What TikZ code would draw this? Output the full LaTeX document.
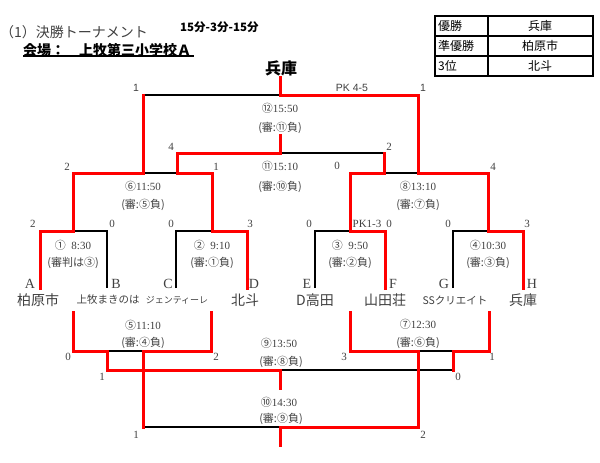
\documentclass[tikz,border=0pt]{standalone}
\usepackage{fontspec}
\setmainfont{Liberation Serif}
\newfontfamily\cjk{Noto Sans CJK JP}
\newfontfamily\asans{Liberation Sans}
\definecolor{txt}{HTML}{404040}
\begin{document}
\begin{tikzpicture}[x=1pt,y=-1pt,
  win/.style={draw=red, line width=3pt, line cap=rect},
  los/.style={draw=black, line width=1.4pt},
  lbl/.style={inner sep=0pt, text=txt, font=\cjk\fontsize{11}{11}\selectfont},
  sc/.style={inner sep=0pt, text=txt, font=\fontsize{11}{11}\selectfont},
  psc/.style={inner sep=0pt, text=txt, font=\asans\fontsize{10.5}{10.5}\selectfont},
  let/.style={inner sep=0pt, text=txt, font=\fontsize{14}{14}\selectfont},
  tm/.style={inner sep=0pt, text=txt, font=\cjk\fontsize{14}{14}\selectfont},
  tms/.style={inner sep=0pt, text=txt, font=\cjk\fontsize{10.5}{10.5}\selectfont},
  tbl/.style={inner sep=0pt, text=black, font=\cjk\fontsize{12}{12}\selectfont}]
\useasboundingbox (0,0) rectangle (600,463);
% ---------- header ----------
\node[inner sep=0pt, anchor=west, text=txt, font=\cjk\fontsize{14}{14}\selectfont] (title) at (0,32) {（1）決勝トーナメント};
\node[inner sep=0pt, anchor=west, text=black, font=\cjk\bfseries\fontsize{11.5}{11.5}\selectfont] (rule) at (180,27) {15分-3分-15分};
\node[inner sep=0pt, anchor=west, text=black, font=\cjk\bfseries\fontsize{14}{14}\selectfont] (venue) at (23,50) {会場：　上牧第三小学校Ａ};
\coordinate (ulA) at (23,56);
\coordinate (ulB) at (194,56);
\draw[line width=1.2pt] (ulA) -- (ulB);
\node[inner sep=0pt, text=black, font=\cjk\bfseries\fontsize{16}{16}\selectfont] (champ) at (281,68) {兵庫};
% ---------- result table ----------
\draw[line width=1.4pt] (435,16) rectangle (593,76);
\draw[line width=1.2pt] (488,16) -- (488,76);
\draw[line width=1.2pt] (435,36) -- (593,36);
\draw[line width=1.2pt] (435,56) -- (593,56);
\node[tbl, anchor=west] (r1a) at (438,26) {優勝};
\node[tbl] (r1b) at (540,26) {兵庫};
\node[tbl, anchor=west] (r2a) at (438,46) {準優勝};
\node[tbl] (r2b) at (540,46) {柏原市};
\node[tbl, anchor=west] (r3a) at (438,66) {3位};
\node[tbl] (r3b) at (540,66) {北斗};
% ---------- coordinates ----------
\coordinate (Ftop) at (280,77);  \coordinate (Fc) at (280,95);
\coordinate (Fl) at (143,95);    \coordinate (Fr) at (418,95);
\coordinate (Ks) at (280,135);   \coordinate (Kc) at (280,153);
\coordinate (Kl) at (177,153);   \coordinate (Kr) at (384,153);
\coordinate (Sl) at (73,173);    \coordinate (Sc) at (143,173);
\coordinate (Sm) at (177,173);   \coordinate (Sr) at (212,173);
\coordinate (El) at (350,173);   \coordinate (Em) at (384,173);
\coordinate (Ec) at (418,173);   \coordinate (Er) at (488,173);
\coordinate (Al) at (40,231);  \coordinate (Ac) at (73,231);  \coordinate (Ar) at (107,231);
\coordinate (Alb) at (40,288); \coordinate (Arb) at (107,288);
\coordinate (Bl) at (176,231); \coordinate (Bc) at (212,231); \coordinate (Br) at (247,231);
\coordinate (Blb) at (176,288); \coordinate (Brb) at (247,288);
\coordinate (Cl) at (315,231); \coordinate (Cc) at (350,231); \coordinate (Cr) at (385,231);
\coordinate (Clb) at (315,288); \coordinate (Crb) at (385,288);
\coordinate (Dl) at (453,231); \coordinate (Dc) at (488,231); \coordinate (Dr) at (523,231);
\coordinate (Dlb) at (453,288); \coordinate (Drb) at (523,288);
% bottom
\coordinate (Plt) at (73,312);  \coordinate (Prt) at (211,312);
\coordinate (Pl) at (73,351);   \coordinate (Pm) at (107,351);
\coordinate (Pc) at (143,351);  \coordinate (Pr) at (211,351);
\coordinate (Nl) at (107,370);  \coordinate (Nc) at (280,370);
\coordinate (Nr) at (453,370);  \coordinate (Ns) at (280,388);
\coordinate (Tl) at (143,427);  \coordinate (Tc) at (280,427);
\coordinate (Tr) at (418,427);  \coordinate (Ts) at (280,445);
\coordinate (Qlt) at (350,312); \coordinate (Qrt) at (489,312);
\coordinate (Ql) at (350,351);  \coordinate (Qc) at (418,351);
\coordinate (Qm) at (453,351);  \coordinate (Qr) at (489,351);
% ---------- losing lines ----------
\draw[los] (Fl) -- (Fc);
\draw[los] (Kc) -- (Kr);
\draw[los] (Sc) -- (Sm);
\draw[los] (Em) -- (Ec);
\draw[los] (Ac) -- (Ar) -- (Arb);
\draw[los] (Blb) -- (Bl) -- (Bc);
\draw[los] (Clb) -- (Cl) -- (Cc);
\draw[los] (Dlb) -- (Dl) -- (Dc);
\draw[los] (Pm) -- (Pc);
\draw[los] (Nc) -- (Nr);
\draw[los] (Tl) -- (Tc);
\draw[los] (Qc) -- (Qm);
% ---------- winning lines ----------
\draw[win] (Ftop) -- (Fc) -- (Fr) -- (Ec);
\draw[win] (Fl) -- (Sc);
\draw[win] (Ks) -- (Kc) -- (Kl) -- (Sm);
\draw[win] (Kr) -- (Em);
\draw[win] (Alb) -- (Al) -- (Ac) -- (Sl) -- (Sc);
\draw[win] (Brb) -- (Br) -- (Bc) -- (Sr) -- (Sm);
\draw[win] (Crb) -- (Cr) -- (Cc) -- (El) -- (Em);
\draw[win] (Drb) -- (Dr) -- (Dc) -- (Er) -- (Ec);
\draw[win] (Plt) -- (Pl) -- (Pm) -- (Nl) -- (Nc) -- (Ns);
\draw[win] (Prt) -- (Pr) -- (Pc) -- (Tl);
\draw[win] (Ts) -- (Tc) -- (Tr) -- (Qc) -- (Ql) -- (Qlt);
\draw[win] (Qrt) -- (Qr) -- (Qm) -- (Nr);
% ---------- match labels ----------
\node[psc] (s12l) at (136,88) {1};
\node[psc] (pk12) at (352,88) {PK 4-5};
\node[psc] (s12r) at (423,88) {1};
\node[lbl] (m12) at (280,108) {⑫{\rmfamily 15:50}};
\node[lbl] (r12) at (280,128) {(審:⑪負)};
\node[sc] (s11l) at (171,147) {4};
\node[sc] (s11r) at (389,147) {2};
\node[lbl] (m11) at (280,166) {⑪{\rmfamily 15:10}};
\node[lbl] (r11) at (280,187) {(審:⑩負)};
\node[sc] (s6l) at (67,167) {2};
\node[sc] (s6r) at (216,167) {1};
\node[sc] (s8l) at (337,166) {0};
\node[sc] (s8r) at (493,167) {4};
\node[lbl] (m6) at (143,186) {⑥{\rmfamily 11:50}};
\node[lbl] (r6) at (143,205) {(審:⑤負)};
\node[lbl] (m8) at (418,186) {⑧{\rmfamily 13:10}};
\node[lbl] (r8) at (418,205) {(審:⑦負)};
\node[sc] (s1l) at (33,224) {2};
\node[sc] (s1r) at (112,224) {0};
\node[sc] (s2l) at (171,224) {0};
\node[sc] (s2r) at (250,224) {3};
\node[sc] (s3l) at (309,224) {0};
\node[sc] (pk3) at (367,224) {PK1-3};
\node[sc] (s3r) at (389,224) {0};
\node[sc] (s4l) at (448,224) {0};
\node[sc] (s4r) at (527,224) {3};
\node[lbl] (m1) at (73,245) {①{\rmfamily\ \ 8:30}};
\node[lbl] (r1) at (73,263) {(審判は③)};
\node[lbl] (m2) at (212,245) {②{\rmfamily\ \ 9:10}};
\node[lbl] (r2) at (212,263) {(審:①負)};
\node[lbl] (m3) at (350,245) {③{\rmfamily\ \ 9:50}};
\node[lbl] (r3) at (350,263) {(審:②負)};
\node[lbl] (m4) at (488,245) {④{\rmfamily 10:30}};
\node[lbl] (r4) at (488,263) {(審:③負)};
% ---------- teams ----------
\node[let] (la) at (30,284) {A};
\node[let] (lb) at (116,284) {B};
\node[let] (lc) at (168,284) {C};
\node[let] (ld) at (254,284) {D};
\node[let] (le) at (307,284) {E};
\node[let] (lf) at (393,284) {F};
\node[let] (lg) at (444,284) {G};
\node[let] (lh) at (532,284) {H};
\node[tm] (ta) at (38,300) {柏原市};
\node[tms] (tb) at (108,300) {上牧まきのは};
\node[inner sep=0pt, text=txt, font=\cjk\fontsize{9}{9}\selectfont] (tc) at (177,300) {ジェンティーレ};
\node[tm] (td) at (245,300) {北斗};
\node[tm] (te) at (315,300) {D高田};
\node[tm] (tf) at (385,300) {山田荘};
\node[tms] (tg) at (455,300) {SSクリエイト};
\node[tm] (th) at (523,300) {兵庫};
% ---------- consolation ----------
\node[lbl] (m5) at (143,325) {⑤{\rmfamily 11:10}};
\node[lbl] (r5) at (143,343) {(審:④負)};
\node[lbl] (m7) at (418,324) {⑦{\rmfamily 12:30}};
\node[lbl] (r7) at (418,343) {(審:⑥負)};
\node[sc] (s5l) at (68,357) {0};
\node[sc] (s5r) at (216,357) {2};
\node[sc] (s9l) at (102,377) {1};
\node[sc] (s7l) at (344,357) {3};
\node[sc] (s7r) at (492,357) {1};
\node[sc] (s9r) at (458,377) {0};
\node[lbl] (m9) at (279,343) {⑨{\rmfamily 13:50}};
\node[lbl] (r9) at (281,362) {(審:⑧負)};
\node[lbl] (m10) at (279,402) {⑩{\rmfamily 14:30}};
\node[lbl] (r10) at (281,419) {(審:⑨負)};
\node[sc] (s10l) at (136,435) {1};
\node[sc] (s10r) at (423,435) {2};
\end{tikzpicture}
\end{document}
